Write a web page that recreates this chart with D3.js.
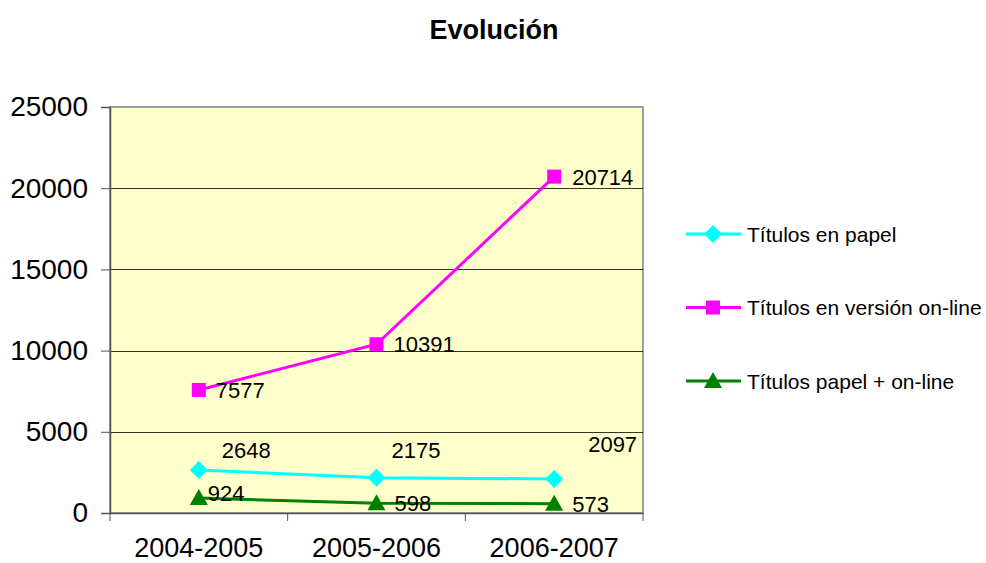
<!DOCTYPE html>
<html>
<head>
<meta charset="utf-8">
<script src="https://cdn.jsdelivr.net/npm/d3@7"></script>
<style>
  body { margin: 0; background: #fff; }
  text { font-family: "Liberation Sans", Arial, sans-serif; fill: #000; }
</style>
</head>
<body>
<svg id="chart" width="986" height="563"></svg>
<script>
// data
const periods = ["2004-2005", "2005-2006", "2006-2007"];
const papel = [2648, 2175, 2097];
const online = [7577, 10391, 20714];
const ambos = [924, 598, 573];
const yTicks = [0, 5000, 10000, 15000, 20000, 25000];

// marker shapes, Excel style
const diamond = "M0,-9L9,0L0,9L-9,0Z";
const square = "M-7,-7H7V7H-7Z";
const triangle = "M0,-9L9,7H-9Z";

const series = [
  {name: "Títulos en papel", values: papel, color: "#00FFFF", marker: diamond,
   lab: [[23, -20], [15, -28], [34, -35]]},
  {name: "Títulos en versión on-line", values: online, color: "#FF00FF", marker: square,
   lab: [[17, 0], [17, 0], [18, 0]]},
  {name: "Títulos papel + on-line", values: ambos, color: "#008000", marker: triangle,
   lab: [[9, -5], [18, 0], [18, 0]]}
];

const svg = d3.select("#chart");
const m = {left: 110, right: 643, top: 107, bottom: 513};

const x = d3.scaleBand().domain(periods).range([m.left, m.right]);
const y = d3.scaleLinear().domain([0, 25000]).range([m.bottom, m.top]);

// title
svg.append("text")
    .attr("x", 494).attr("y", 39)
    .attr("text-anchor", "middle")
    .style("font-size", "27px").style("font-weight", "bold")
    .text("Evolución");

// plot area
svg.append("rect")
    .attr("x", m.left).attr("y", m.top)
    .attr("width", m.right - m.left).attr("height", m.bottom - m.top)
    .attr("fill", "#FFFFCC").attr("stroke", "#808080").attr("stroke-width", 1.5);

// gridlines
svg.append("g")
  .selectAll("line")
  .data(yTicks.filter(d => d > 0 && d < 25000))
  .join("line")
    .attr("x1", m.left).attr("x2", m.right)
    .attr("y1", d => Math.round(y(d)) + 0.5).attr("y2", d => Math.round(y(d)) + 0.5)
    .attr("stroke", "#000").attr("stroke-width", 0.8);

// y axis
const yAxis = svg.append("g")
    .attr("transform", `translate(${m.left},0)`)
    .call(d3.axisLeft(y).tickValues(yTicks).tickSize(9).tickPadding(13).tickFormat(d3.format("d")));
yAxis.select(".domain").attr("stroke", "#555").attr("stroke-width", 1.5);
yAxis.selectAll(".tick line").attr("stroke", "#555");
yAxis.selectAll("text").style("font-size", "28px").style("font-family", "Liberation Sans, Arial, sans-serif");

// x axis
const xAxis = svg.append("g")
    .attr("transform", `translate(0,${m.bottom})`)
    .call(d3.axisBottom(x).tickSize(0).tickPadding(25));
xAxis.select(".domain").attr("stroke", "#555").attr("stroke-width", 1.5);
xAxis.selectAll("text").style("font-size", "27px").style("font-family", "Liberation Sans, Arial, sans-serif");
xAxis.selectAll(".sep")
  .data([...periods.map(p => x(p)), m.right])
  .join("line")
    .attr("class", "sep")
    .attr("x1", d => d).attr("x2", d => d)
    .attr("y1", 0).attr("y2", 8)
    .attr("stroke", "#555");

const cx = p => x(p) + x.bandwidth() / 2;
const line = d3.line().x((d, i) => cx(periods[i])).y(d => y(d));

series.forEach(s => {
  const g = svg.append("g");
  g.append("path")
      .attr("d", line(s.values))
      .attr("fill", "none").attr("stroke", s.color).attr("stroke-width", 3);
  g.selectAll(".mk")
    .data(s.values)
    .join("path")
      .attr("class", "mk")
      .attr("transform", (d, i) => `translate(${cx(periods[i])},${y(d)})`)
      .attr("d", s.marker)
      .attr("fill", s.color);
  g.selectAll(".lb")
    .data(s.values)
    .join("text")
      .attr("class", "lb")
      .attr("x", (d, i) => cx(periods[i]) + s.lab[i][0])
      .attr("y", (d, i) => y(d) + s.lab[i][1])
      .attr("dy", "0.36em")
      .style("font-size", "22px")
      .text(d => d);
});

// legend
const legend = svg.append("g").attr("transform", "translate(686,234)");
series.forEach((s, i) => {
  const row = legend.append("g").attr("transform", `translate(0,${i * 73.5})`);
  row.append("line").attr("x1", 0).attr("x2", 55).attr("stroke", s.color).attr("stroke-width", 3);
  row.append("path")
      .attr("transform", "translate(27,0)")
      .attr("d", s.marker)
      .attr("fill", s.color);
  row.append("text")
      .attr("x", 61).attr("dy", "0.36em")
      .style("font-size", "21px")
      .text(s.name);
});
</script>
</body>
</html>
